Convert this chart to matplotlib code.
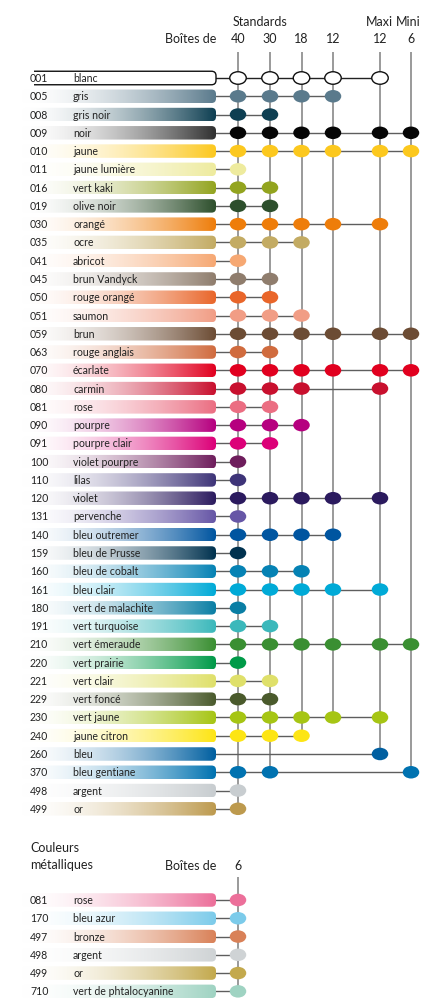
import numpy as np
import matplotlib
matplotlib.use("Agg")
import matplotlib.pyplot as plt
from matplotlib.patches import FancyBboxPatch, Ellipse, Rectangle
from matplotlib.colors import to_rgb

plt.rcParams['font.family'] = ['Lato', 'DejaVu Sans']

# box columns (header line 1 / line 2)
box_groups = ['Standards', 'Maxi', 'Mini']
box_sizes = ['40', '30', '18', '12', '12', '6']

# main range: code, name, colour, boxes it belongs to (column index)
codes = ['001', '005', '008', '009', '010', '011', '016', '019', '030', '035',
         '041', '045', '050', '051', '059', '063', '070', '080', '081', '090',
         '091', '100', '110', '120', '131', '140', '159', '160', '161', '180',
         '191', '210', '220', '221', '229', '230', '240', '260', '370', '498', '499']
names = ['blanc', 'gris', 'gris noir', 'noir', 'jaune', 'jaune lumière', 'vert kaki',
         'olive noir', 'orangé', 'ocre', 'abricot', 'brun Vandyck', 'rouge orangé',
         'saumon', 'brun', 'rouge anglais', 'écarlate', 'carmin', 'rose', 'pourpre',
         'pourpre clair', 'violet pourpre', 'lilas', 'violet', 'pervenche',
         'bleu outremer', 'bleu de Prusse', 'bleu de cobalt', 'bleu clair',
         'vert de malachite', 'vert turquoise', 'vert émeraude', 'vert prairie',
         'vert clair', 'vert foncé', 'vert jaune', 'jaune citron', 'bleu',
         'bleu gentiane', 'argent', 'or']
colors = ['#ffffff', '#5a7a8c', '#0e3f52', '#050505', '#fcc81e', '#eeeb9e', '#93a41f',
          '#2d4f2c', '#ee7d0a', '#c3ab63', '#f6a873', '#8f7d6d', '#e9662a',
          '#f19d85', '#6c4c34', '#d06b3e', '#e1001f', '#c8102e', '#eb6e82', '#b6007f',
          '#dc0078', '#6e1d5c', '#3e3478', '#2b1a5e', '#6656a6',
          '#0055a0', '#00324f', '#0582b4', '#00aad7',
          '#0a7ea4', '#3bb8bb', '#3a8f32', '#009a48',
          '#dfe06a', '#4a5a2c', '#a6c514', '#fde514', '#005fa0',
          '#0072b0', '#c8cdd0', '#bd9a4e']
boxes = [[0, 1, 2, 3, 4], [0, 1, 2, 3], [0, 1], [0, 1, 2, 3, 4, 5], [0, 1, 2, 3, 4, 5],
         [0], [0, 1], [0, 1], [0, 1, 2, 3, 4], [0, 1, 2],
         [0], [0, 1], [0, 1], [0, 1, 2], [0, 1, 2, 3, 4, 5], [0, 1],
         [0, 1, 2, 3, 4, 5], [0, 1, 2, 4], [0, 1], [0, 1, 2],
         [0, 1], [0], [0], [0, 1, 2, 3, 4], [0],
         [0, 1, 2, 3], [0], [0, 1, 2], [0, 1, 2, 3, 4],
         [0], [0, 1], [0, 1, 2, 3, 4, 5], [0],
         [0, 1], [0, 1], [0, 1, 2, 3, 4], [0, 1, 2], [4],
         [0, 1, 5], [0], [0]]

# metallic colours, all in the box of 6
met_codes = ['081', '170', '497', '498', '499', '710']
met_names = ['rose', 'bleu azur', 'bronze', 'argent', 'or', 'vert de phtalocyanine']
met_colors = ['#ec6f9a', '#7ccbea', '#d98158', '#cfd3d5', '#c3a94d', '#9fd3c2']

# layout (pixels)
W, H = 423, 998
col_x = [238, 270, 301.5, 333, 380, 411]
y0, dy = 78, 18.27
my0 = 900
bar_x0, bar_x1, bar_h = 22, 216, 13.5
txt_col = '#222222'
vline_col = '#9a9a9a'
hline_col = '#5e5e5e'

fig = plt.figure(figsize=(W / 100, H / 100), dpi=100)
ax = fig.add_axes([0, 0, 1, 1])
ax.set_xlim(0, W)
ax.set_ylim(H, 0)
ax.axis('off')


def labels(y, code, name):
    ax.text(30, y + 0.5, code, fontsize=7.6, color=txt_col, va='center', ha='left', zorder=4)
    ax.text(73, y + 0.5, name, fontsize=7.6, color=txt_col, va='center', ha='left', zorder=4)


def draw_bar(y, color, code, name):
    patch = FancyBboxPatch((bar_x0, y - bar_h / 2), bar_x1 - bar_x0, bar_h,
                           boxstyle='round,pad=0,rounding_size=4.5',
                           fc='none', ec='none', zorder=2)
    ax.add_patch(patch)
    # near-black ends the bar on a dark grey
    c = np.array(to_rgb(color))
    if c.max() < 0.05:
        c = np.array(to_rgb('#303030'))
    t = np.linspace(0, 1, 256) ** 1.7
    grad = (1 - t)[:, None] + t[:, None] * c[None, :]
    img = ax.imshow(grad[None, :, :], extent=(bar_x0, bar_x1, y + bar_h / 2, y - bar_h / 2),
                    aspect='auto', zorder=2, interpolation='bilinear')
    img.set_clip_path(patch)
    labels(y, code, name)


def draw_white_bar(y, code, name):
    patch = FancyBboxPatch((-20, y - bar_h / 2), bar_x1 + 20, bar_h,
                           boxstyle='round,pad=0,rounding_size=4.5',
                           fc='white', ec='#111111', lw=1.0, zorder=2)
    ax.add_patch(patch)
    # outline starts just right of the code
    ax.add_patch(Rectangle((0, y - bar_h / 2 - 2), 34, bar_h + 4,
                           fc='white', ec='none', zorder=2.5))
    labels(y, code, name)


def marker(x, y, color):
    white = color.lower() == '#ffffff'
    ax.add_patch(Ellipse((x, y), 16.5, 12.5, fc=color,
                         ec='#111111' if white else 'none', lw=1.0, zorder=3))


# headers
ax.text(260, 22, box_groups[0], fontsize=9, color=txt_col, ha='center', va='center')
ax.text(379, 22, box_groups[1], fontsize=9, color=txt_col, ha='center', va='center')
ax.text(408, 22, box_groups[2], fontsize=9, color=txt_col, ha='center', va='center')
ax.text(216, 39, 'Boîtes de', fontsize=9, color=txt_col, ha='right', va='center')
for x, s in zip(col_x, box_sizes):
    ax.text(x, 39, s, fontsize=9, color=txt_col, ha='center', va='center')

row_y = [y0 + i * dy for i in range(len(codes))]

# vertical lines down to the last colour of each box
for j, x in enumerate(col_x):
    last = max(i for i, b in enumerate(boxes) if j in b)
    ax.plot([x, x], [52, row_y[last]], color=vline_col, lw=1.4, zorder=1,
            solid_capstyle='butt')

for i, (code, name, color, b) in enumerate(zip(codes, names, colors, boxes)):
    y = row_y[i]
    lc = '#222222' if color.lower() == '#ffffff' else hline_col
    ax.plot([bar_x1 - 2, col_x[max(b)]], [y, y], color=lc, lw=1.0, zorder=1.5)
    if color.lower() == '#ffffff':
        draw_white_bar(y, code, name)
    else:
        draw_bar(y, color, code, name)
    for j in b:
        marker(col_x[j], y, color)

# metallic section
ax.text(30, 848, 'Couleurs', fontsize=9, color=txt_col, ha='left', va='center')
ax.text(30, 865, 'métalliques', fontsize=9, color=txt_col, ha='left', va='center')
ax.text(216, 866, 'Boîtes de', fontsize=9, color=txt_col, ha='right', va='center')
ax.text(col_x[0], 866, '6', fontsize=9, color=txt_col, ha='center', va='center')

met_y = [my0 + i * dy for i in range(len(met_codes))]
ax.plot([col_x[0], col_x[0]], [877, met_y[-1]], color=vline_col, lw=1.4, zorder=1,
        solid_capstyle='butt')
for y, code, name, color in zip(met_y, met_codes, met_names, met_colors):
    ax.plot([bar_x1 - 2, col_x[0]], [y, y], color=hline_col, lw=1.0, zorder=1.5)
    draw_bar(y, color, code, name)
    marker(col_x[0], y, color)

fig.savefig('out.png', dpi=100)
